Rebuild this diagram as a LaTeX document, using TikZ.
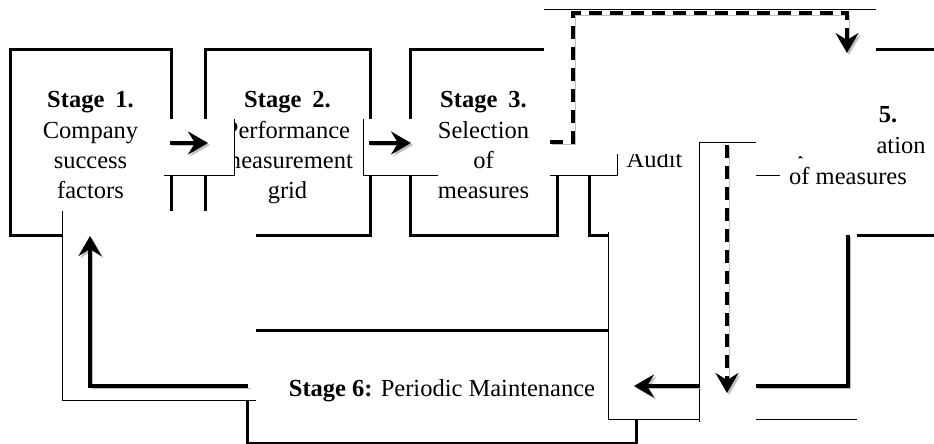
\documentclass[tikz,border=0pt]{standalone}
\usepackage{fontspec}
\setmainfont{Liberation Serif}
\usetikzlibrary{arrows.meta}
\begin{document}
\begin{tikzpicture}[x=1pt,y=-1pt,
  boxline/.style={line width=3pt, line join=miter},
  patchline/.style={line width=0.9pt},
  tipstyle/.style={-{Stealth[length=20pt,width=23pt,inset=7pt]}},
  shade/.style={preaction={draw=black!25, transform canvas={shift={(2pt,-2pt)}}}},
  flowline/.style={line width=3.6pt, shade},
  dashflow/.style={line width=3.6pt, dash pattern=on 13pt off 8pt, shade},
  lbl/.style={inner sep=0pt, anchor=base, font=\fontsize{24.5}{30}\selectfont},
]
\useasboundingbox (0,0) rectangle (934,444);

% ---- visible parts of the stage boxes (thick) ----
\draw[boxline] (62,235) -- (10,235) -- (10,50) -- (171,50) -- (171,119);
\draw[boxline] (171,175) -- (171,211);
\draw[boxline] (205,211) -- (205,175);
\draw[boxline] (205,119) -- (205,50) -- (370,50) -- (370,119);
\draw[boxline] (370,175) -- (370,235) -- (256,235);
\draw[boxline] (410,119) -- (410,50) -- (544,50);
\draw[boxline] (410,175) -- (410,235) -- (557,235) -- (557,175);
\draw[boxline] (589,175) -- (589,235) -- (608,235);
\draw[boxline] (876,50) -- (934,50);
\draw[boxline] (857,235) -- (934,235);
\draw[boxline] (256,330) -- (608,330);
\draw[boxline] (247,400) -- (247,443) -- (636,443) -- (636,419);

% ---- thin patch borders ----
\draw[patchline] (544,9) -- (876,9);
\draw[patchline] (164,175) -- (234,175) -- (234,119);
\draw[patchline] (363,119) -- (363,175) -- (438,175);
\draw[patchline] (550,175) -- (617,175) -- (617,154);
\draw[patchline] (62,211) -- (62,400) -- (256,400);
\draw[patchline] (608,232) -- (608,419) -- (699,419);
\draw[patchline] (699,422) -- (699,142) -- (756,142);
\draw[patchline] (756,175) -- (780,175);
\draw[patchline] (756,419) -- (857,419);

% ---- texts ----
\node[lbl] (s1a) at (90.5,107) {\bfseries Stage\hspace{0.45em}1.};
\node[lbl] (s1b) at (90.5,138) {Company};
\node[lbl] (s1c) at (90.5,168) {success};
\node[lbl] (s1d) at (90.5,198) {factors};

\node[lbl] (s2a) at (287.5,107) {\bfseries Stage\hspace{0.45em}2.};
\begin{scope}
  \clip (234,0) rectangle (934,444);
  \node[lbl] (s2b) at (287.5,138) {Performance};
  \node[lbl] (s2c) at (287.5,168) {measurement};
\end{scope}
\node[lbl] (s2d) at (287.5,198) {grid};

\node[lbl] (s3a) at (483.5,107) {\bfseries Stage\hspace{0.45em}3.};
\node[lbl] (s3b) at (483.5,138) {Selection};
\node[lbl] (s3c) at (483.5,168) {of};
\node[lbl] (s3d) at (483.5,198) {measures};

\begin{scope}
  \clip (600,154) rectangle (698,200);
  \node[lbl] (s4) at (654.5,167) {Audit};
\end{scope}

\begin{scope}
  \clip (874,60) rectangle (934,130);
  \node[lbl] (s5a) at (854,122) {\bfseries Stage\hspace{0.45em}5.};
\end{scope}
\begin{scope}
  \clip (877,0) -- (934,0) -- (934,444) -- (700,444) -- (700,156) -- (877,156) -- cycle;
  \node[lbl] (s5b) at (848,153) {Implementation};
\end{scope}
\node[lbl] (s5c) at (848,184) {of measures};

\node[lbl] (s6) at (442,396) {\textbf{Stage 6:} Periodic Maintenance};

% ---- connector end points ----
\coordinate (a1s) at (170,143);  \coordinate (a1e) at (208,143);
\coordinate (a2s) at (369,143);  \coordinate (a2e) at (411,143);
\coordinate (fbs) at (248,386);  \coordinate (fbc) at (90,386);  \coordinate (fbe) at (90,236);
\coordinate (r1s) at (848,235);  \coordinate (r1c) at (848,386); \coordinate (r1g) at (756,386);
\coordinate (r2s) at (699,386);  \coordinate (r2e) at (634,386);
\coordinate (d1s) at (550,142);  \coordinate (d1a) at (573,142); \coordinate (d1b) at (573,13);
\coordinate (d1c) at (847,13);   \coordinate (d1e) at (847,53);
\coordinate (d2s) at (727,145);  \coordinate (d2e) at (727,393);

% ---- connectors ----
\draw[flowline, tipstyle] (a1s) -- (a1e);
\draw[flowline, tipstyle] (a2s) -- (a2e);
\draw[flowline, tipstyle] (fbs) -- (fbc) -- (fbe);
\draw[flowline] (r1s) -- (r1c) -- (r1g);
\draw[flowline, tipstyle] (r2s) -- (r2e);
\draw[dashflow, tipstyle] (d1s) -- (d1a) -- (d1b) -- (d1c) -- (d1e);
\draw[dashflow, tipstyle] (d2s) -- (d2e);
\end{tikzpicture}
\end{document}
